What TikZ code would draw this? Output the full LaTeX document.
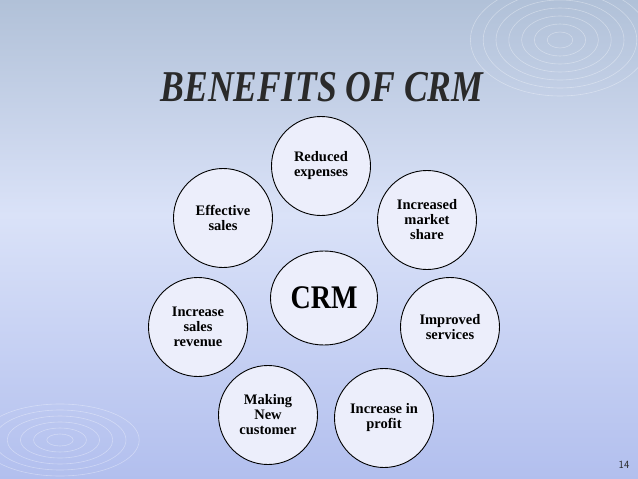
\documentclass[tikz,border=0pt]{standalone}
\usepackage{fontspec}
\setmainfont{Liberation Serif}
\usepackage{xcolor}
\definecolor{slide-top}{HTML}{B1C1D8}
\definecolor{slide-mid}{HTML}{DAE2F8}
\definecolor{slide-bottom}{HTML}{B2BFEE}
\definecolor{bubble-fill}{HTML}{ECEEFB}
\definecolor{title-ink}{HTML}{2A2A2A}
\usepackage{tikz}
\usetikzlibrary{shapes.geometric}

\tikzset{
    benefit/.style={circle, draw=black, line width=0.9pt, fill=bubble-fill,
        minimum size=99pt, inner sep=0pt, align=center,
        font=\fontsize{14.5}{15}\selectfont\bfseries},
    wave/.style={draw=white, opacity=0.35, line width=0.6pt}
}

\begin{document}
\begin{tikzpicture}[x=1pt, y=-1pt]

    % Background
    \useasboundingbox (0, 0) rectangle (638, 479);
    \shade[top color=slide-top, bottom color=slide-mid] (0, 0) rectangle (638, 215);
    \shade[top color=slide-mid, bottom color=slide-bottom] (0, 215) rectangle (638, 479);

    % Waves
    \foreach \r in {8, 16, ..., 56}
        \draw[wave] (560, 40) ellipse ({\r*1.6} and \r);
    \foreach \r in {6, 12, ..., 36}
        \draw[wave] (60, 440) ellipse ({\r*2.2} and \r);

    % Title
    \node[text=title-ink] (title) at (322, 87)
        {\fontsize{44}{44}\selectfont\bfseries\itshape\scalebox{0.81}[1]{BENEFITS OF CRM}};

    % Centre
    \node[benefit, ellipse, minimum width=107pt, minimum height=94pt,
        font=\fontsize{33}{33}\selectfont\bfseries] (crm) at (324, 298)
        {\scalebox{0.85}[1]{CRM}};

    % Benefits
    \node[benefit] (reduced) at (321, 166) {Reduced\\expenses};
    \node[benefit] (market) at (427, 220) {Increased\\market\\share};
    \node[benefit] (services) at (450, 327) {Improved\\services};
    \node[benefit] (profit) at (384, 418) {Increase in\\profit};
    \node[benefit] (customer) at (268, 415) {Making\\New\\customer};
    \node[benefit] (revenue) at (198, 327) {Increase\\sales\\revenue};
    \node[benefit] (sales) at (223, 218) {Effective\\sales};

    % Page number
    \node[text=gray!30!black, font=\sffamily\fontsize{11}{11}\selectfont] (page) at (624, 465) {14};

\end{tikzpicture}
\end{document}
